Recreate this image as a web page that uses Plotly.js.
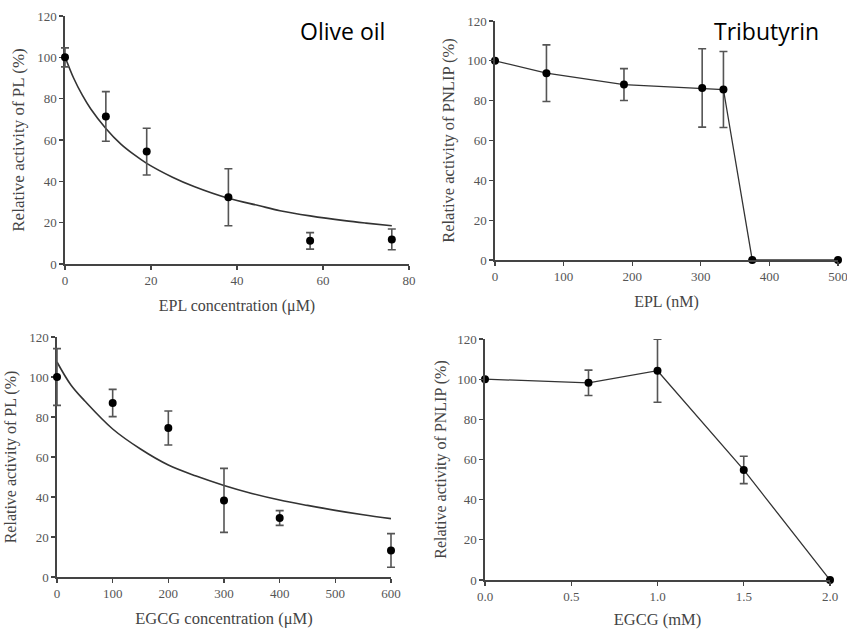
<!DOCTYPE html>
<html>
<head>
<meta charset="utf-8">
<script src="https://cdn.plot.ly/plotly-3.0.1.min.js"></script>
<style>html,body{margin:0;padding:0;background:#fff;}#chart{width:847px;height:629px;}</style>
</head>
<body>
<div id="chart"></div>
<script>
// Panel A: Olive oil, EPL (µM) vs relative activity of PL
const epl_uM = [0, 9.5, 19, 38, 57, 76];
const pl_epl = [100, 71.4, 54.4, 32.3, 11.2, 11.9];
const pl_epl_err = [4.6, 12, 11.3, 13.8, 4, 5];
const fitA_x = [0, 2, 4, 6, 9.5, 13, 16, 19, 25, 30, 38, 45, 50, 57, 65, 70, 76];
const fitA_y = [100.3, 90, 81.8, 75, 65.6, 58, 53, 48.7, 42, 37.5, 31.8, 28.3, 25.8, 23.3, 21, 19.8, 18.5];

// Panel B: Tributyrin, EPL (nM) vs relative activity of PNLIP
const epl_nM = [0, 75, 188, 302, 333, 375, 500];
const pnlip_epl = [100, 93.8, 88.1, 86.4, 85.6, 0, 0];
const pnlip_epl_err = [0, 14.2, 8, 19.7, 19.1, 0, 0];

// Panel C: EGCG (µM) vs relative activity of PL
const egcg_uM = [0, 100, 200, 300, 400, 600];
const pl_egcg = [100, 87, 74.5, 38.3, 29.5, 13.3];
const pl_egcg_err = [14.2, 6.8, 8.5, 16, 3.7, 8.4];
const fitC_x = [0, 25, 50, 100, 150, 200, 250, 300, 350, 400, 450, 500, 550, 600];
const fitC_y = [107.5, 96, 88, 74, 64, 56, 50.5, 45.8, 41.8, 38.5, 35.8, 33.3, 31.1, 29.2];

// Panel D: EGCG (mM) vs relative activity of PNLIP
const egcg_mM = [0, 0.6, 1.0, 1.5, 2.0];
const pnlip_egcg = [100, 98.2, 104.2, 54.8, 0];
const pnlip_egcg_err = [0, 6.3, 15.7, 6.8, 0];

const yTicks = [0, 20, 40, 60, 80, 100, 120];

const serif = '"Liberation Serif", "Times New Roman", serif';
const markerStyle = {color: '#000', size: 8};
const errStyle = (arr) => ({type: 'data', array: arr, visible: true, color: '#555', thickness: 1.6, width: 4});

const W = 847, H = 629;
const PAD = 12; // px of extra room for overlay axes so end error-bar caps are not clipped
const dx = (a, b) => [a / W, b / W];
const dy = (top, bottom) => [1 - bottom / H, 1 - top / H];

// panel pixel boxes
const boxA = {l: 65, r: 409, t: 16, b: 264, range: [0, 80]};
const boxB = {l: 495, r: 838, t: 21, b: 260, range: [0, 500]};
const boxC = {l: 57, r: 391, t: 337, b: 577, range: [0, 600]};
const boxD = {l: 485, r: 830, t: 339, b: 580, range: [0, 2]};

function padRange(box) {
  const u = (box.range[1] - box.range[0]) / (box.r - box.l);
  return [box.range[0] - PAD * u, box.range[1] + PAD * u];
}

const traces = [
  {x: fitA_x, y: fitA_y, xaxis: 'x', yaxis: 'y', mode: 'lines', line: {color: '#333', width: 1.6, shape: 'spline'}, hoverinfo: 'skip'},
  {x: epl_uM, y: pl_epl, xaxis: 'x5', yaxis: 'y5', mode: 'markers', marker: markerStyle, error_y: errStyle(pl_epl_err), cliponaxis: false},
  {x: epl_nM, y: pnlip_epl, xaxis: 'x2', yaxis: 'y2', mode: 'lines+markers', marker: markerStyle, line: {color: '#333', width: 1.3}, error_y: errStyle(pnlip_epl_err), cliponaxis: false},
  {x: fitC_x, y: fitC_y, xaxis: 'x3', yaxis: 'y3', mode: 'lines', line: {color: '#333', width: 1.6, shape: 'spline'}, hoverinfo: 'skip'},
  {x: egcg_uM, y: pl_egcg, xaxis: 'x6', yaxis: 'y6', mode: 'markers', marker: markerStyle, error_y: errStyle(pl_egcg_err), cliponaxis: false},
  {x: egcg_mM, y: pnlip_egcg, xaxis: 'x4', yaxis: 'y4', mode: 'lines+markers', marker: markerStyle, line: {color: '#333', width: 1.3}, error_y: errStyle(pnlip_egcg_err), cliponaxis: false}
];

function xa(box, anchor, dtick, fmt, title, fs) {
  return {
    domain: dx(box.l, box.r), anchor: anchor, range: box.range, dtick: dtick, tick0: 0, tickformat: fmt,
    showgrid: false, zeroline: false, showline: true, linecolor: '#444', linewidth: 1.6,
    ticks: 'outside', ticklen: 4, tickcolor: '#444', tickwidth: 1.2, ticklabeloverflow: 'allow',
    tickfont: {family: serif, size: 13, color: '#555'},
    title: {text: title, font: {family: serif, size: fs, color: '#444'}, standoff: 12}
  };
}
function ya(box, anchor, title, standoff, fs) {
  return {
    domain: dy(box.t, box.b), anchor: anchor, range: [0, 120], tickvals: yTicks,
    showgrid: false, zeroline: false, showline: true, linecolor: '#444', linewidth: 1.6,
    ticks: 'outside', ticklen: 4, tickcolor: '#444', tickwidth: 1.2, ticklabeloverflow: 'allow',
    tickfont: {family: serif, size: 13, color: '#555'},
    title: {text: title, font: {family: serif, size: fs, color: '#444'}, standoff: standoff}
  };
}
function hiddenX(box, anchor) {
  return {domain: dx(box.l - PAD, box.r + PAD), anchor: anchor, range: padRange(box), visible: false, showgrid: false, zeroline: false};
}
function hiddenY(box, anchor) {
  const u = 120 / (box.b - box.t);
  return {domain: dy(box.t - PAD, box.b + PAD), anchor: anchor, range: [-PAD * u, 120 + PAD * u], visible: false, showgrid: false, zeroline: false};
}

const annFont = {family: '"Open Sans", "Noto Sans", sans-serif', size: 23, color: '#000'};

const layout = {
  width: W, height: H,
  margin: {l: 0, r: 0, t: 0, b: 0},
  paper_bgcolor: '#fff', plot_bgcolor: 'rgba(0,0,0,0)',
  showlegend: false,
  xaxis: xa(boxA, 'y', 20, '', 'EPL concentration (μM)', 16),
  yaxis: ya(boxA, 'x', 'Relative activity of PL (%)', 8, 17),
  xaxis2: xa(boxB, 'y2', 100, '', 'EPL (nM)', 16),
  yaxis2: ya(boxB, 'x2', 'Relative activity of PNLIP (%)', 8, 16.5),
  xaxis3: xa(boxC, 'y3', 100, '', 'EGCG concentration (μM)', 16.5),
  yaxis3: ya(boxC, 'x3', 'Relative activity of PL (%)', 8, 16),
  xaxis4: xa(boxD, 'y4', 0.5, '.1f', 'EGCG (mM)', 16.5),
  yaxis4: ya(boxD, 'x4', 'Relative activity of PNLIP (%)', 6, 16),
  xaxis5: hiddenX(boxA, 'y5'),
  yaxis5: hiddenY(boxA, 'x5'),
  xaxis6: hiddenX(boxC, 'y6'),
  yaxis6: hiddenY(boxC, 'x6'),
  annotations: [
    {text: 'Olive oil', xref: 'paper', yref: 'paper', x: 342 / W, y: 1 - 31 / H, xanchor: 'center', yanchor: 'middle',
     showarrow: false, font: annFont},
    {text: 'Tributyrin', xref: 'paper', yref: 'paper', x: 766 / W, y: 1 - 31 / H, xanchor: 'center', yanchor: 'middle',
     showarrow: false, font: annFont}
  ]
};

Plotly.newPlot('chart', traces, layout, {displayModeBar: false, staticPlot: true});
</script>
</body>
</html>
